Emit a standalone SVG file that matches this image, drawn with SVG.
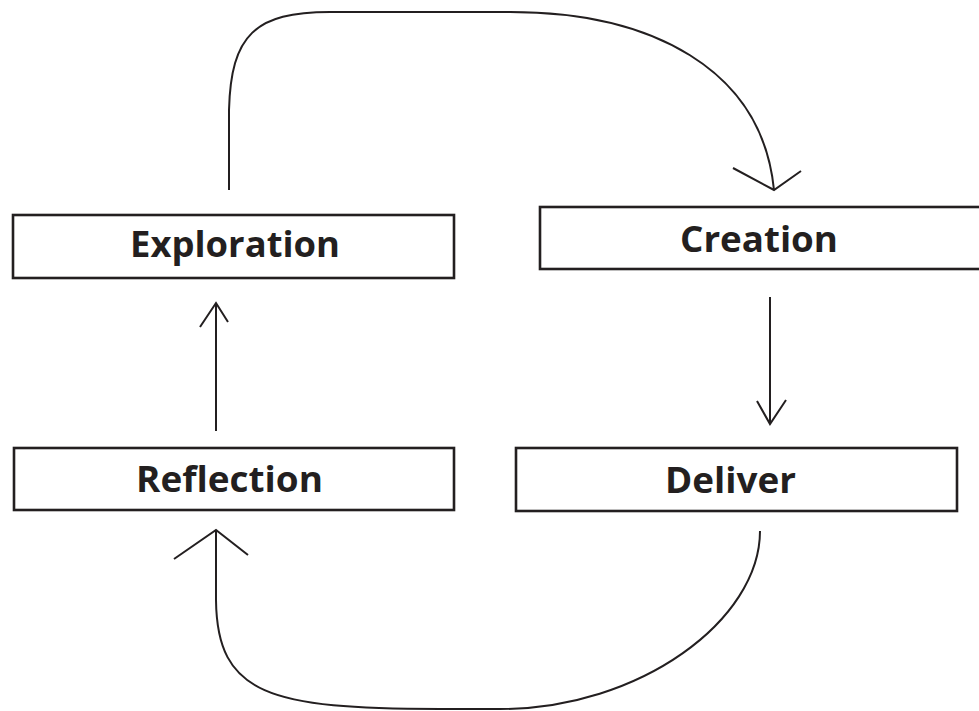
<svg xmlns="http://www.w3.org/2000/svg" width="979" height="711" viewBox="0 0 979 711">
  <style>
    .box { fill: #ffffff; stroke: #231f20; stroke-width: 2.6; }
    .label { font-family: "Open Sans", "Liberation Sans", sans-serif; font-weight: 700; font-size: 36px; fill: #231f20; text-anchor: start; }
    .link { fill: none; stroke: #231f20; stroke-width: 2; stroke-linejoin: miter; }
  </style>
  <rect width="979" height="711" fill="#ffffff"/>

  <g id="connectors">
    <!-- Exploration -> Creation: looping over the top -->
    <path class="link" d="M229,190 L229,110 C231,35 255,12 330,12 L510,12 C650,12 762,68 774,190"/>
    <path class="link" d="M733,168 L774,190 L801,171"/>
    <!-- Creation -> Deliver -->
    <path class="link" d="M770,297 L770,423"/>
    <path class="link" d="M757,401 L770,424 L786,400"/>
    <!-- Deliver -> Reflection: looping under the bottom -->
    <path class="link" d="M760,531 C760,620 640,709 500,709 L440,709 C270,709 217,695 216,600 L216,531"/>
    <path class="link" d="M174,559 L216,530 L248,555"/>
    <!-- Reflection -> Exploration -->
    <path class="link" d="M216,431 L216,303"/>
    <path class="link" d="M200,327 L216,303 L228,322"/>
  </g>

  <g id="exploration">
    <rect class="box" x="13" y="215" width="441" height="63"/>
    <text class="label" x="130" y="257" textLength="210" lengthAdjust="spacingAndGlyphs">Exploration</text>
  </g>

  <g id="creation">
    <rect class="box" x="540" y="207" width="445" height="62"/>
    <text class="label" x="680" y="252" textLength="158" lengthAdjust="spacingAndGlyphs">Creation</text>
  </g>

  <g id="reflection">
    <rect class="box" x="14" y="448" width="440" height="62"/>
    <text class="label" x="136" y="492" textLength="187" lengthAdjust="spacingAndGlyphs">Reflection</text>
  </g>

  <g id="deliver">
    <rect class="box" x="516" y="448" width="441" height="63"/>
    <text class="label" x="665" y="493" textLength="131" lengthAdjust="spacingAndGlyphs">Deliver</text>
  </g>
</svg>
